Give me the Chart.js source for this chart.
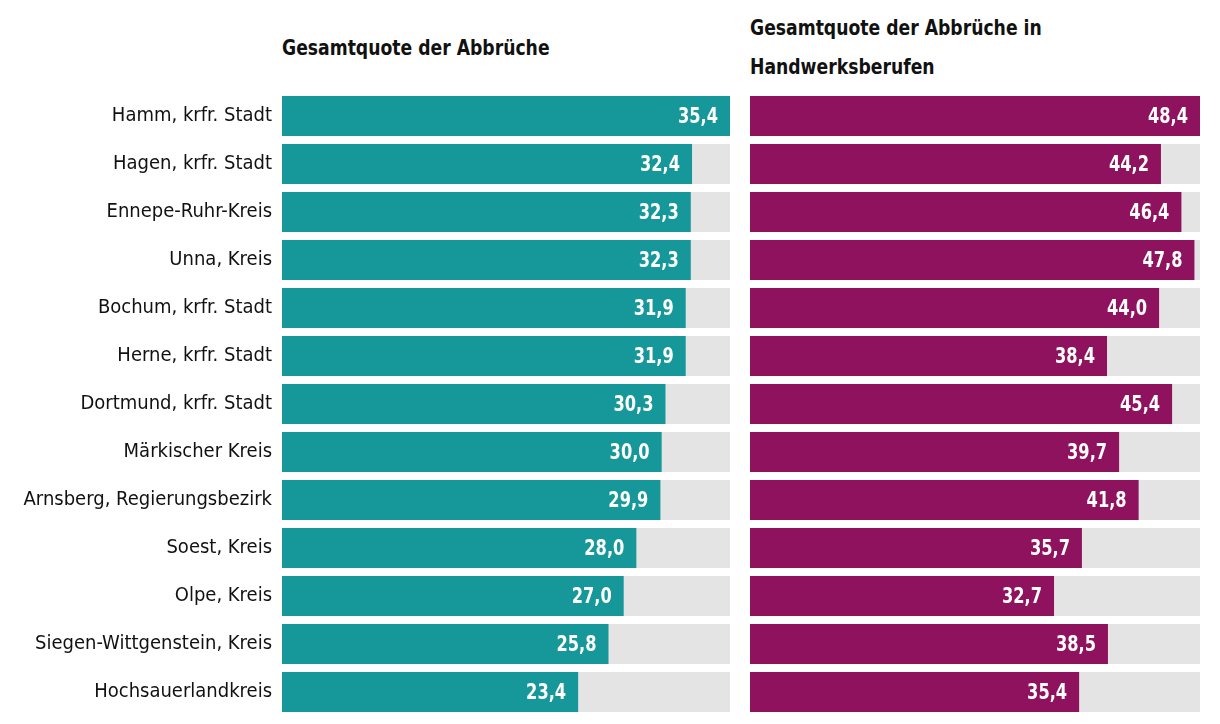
<!DOCTYPE html>
<html>
<head>
<meta charset="utf-8">
<script src="https://cdn.jsdelivr.net/npm/chart.js@4.4.0/dist/chart.umd.min.js"></script>
<style>
  body { margin: 0; background: #fff; width: 1220px; height: 724px; position: relative; overflow: hidden; }
  .title { position: absolute; font-family: "DejaVu Sans Condensed", "Liberation Sans Narrow", sans-serif; font-weight: bold; font-size: 22px; color: #111; line-height: 39px; transform: scaleX(0.87); transform-origin: left top; white-space: nowrap; }
  #box1 { position: absolute; left: 0; top: 92px; width: 730px; height: 624px; }
  #box2 { position: absolute; left: 750px; top: 92px; width: 450px; height: 624px; }
</style>
</head>
<body>
<div class="title" style="left:282px; top:28px;">Gesamtquote der Abbrüche</div>
<div class="title" style="left:750px; top:8px;">Gesamtquote der Abbrüche in<br>Handwerksberufen</div>
<div id="box1"><canvas id="c1"></canvas></div>
<div id="box2"><canvas id="c2"></canvas></div>
<script>
const FONT = '"DejaVu Sans Condensed", "Liberation Sans Narrow", sans-serif';

const regions = [
    "Hamm, krfr. Stadt",
    "Hagen, krfr. Stadt",
    "Ennepe-Ruhr-Kreis",
    "Unna, Kreis",
    "Bochum, krfr. Stadt",
    "Herne, krfr. Stadt",
    "Dortmund, krfr. Stadt",
    "Märkischer Kreis",
    "Arnsberg, Regierungsbezirk",
    "Soest, Kreis",
    "Olpe, Kreis",
    "Siegen-Wittgenstein, Kreis",
    "Hochsauerlandkreis"
];
const gesamt = [35.4, 32.4, 32.3, 32.3, 31.9, 31.9, 30.3, 30.0, 29.9, 28.0, 27.0, 25.8, 23.4];
const handwerk = [48.4, 44.2, 46.4, 47.8, 44.0, 38.4, 45.4, 39.7, 41.8, 35.7, 32.7, 38.5, 35.4];

const max1 = 35.4;
const max2 = 48.4;

const fmt = (v) => v.toFixed(1).replace(".", ",");

// white value text at the end of each coloured bar, squeezed a bit
const valueLabels = {
    id: "valueLabels",
    afterDatasetsDraw(chart) {
        const ctx = chart.ctx;
        const meta = chart.getDatasetMeta(1);
        const data = chart.data.datasets[1].data;
        const sx = 0.82;
        ctx.save();
        ctx.scale(sx, 1);
        ctx.fillStyle = "#fff";
        ctx.font = "bold 22px " + FONT;
        ctx.textAlign = "right";
        ctx.textBaseline = "middle";
        meta.data.forEach((bar, i) => {
            ctx.fillText(fmt(data[i]), (bar.x - 12) / sx, bar.y + 1);
        });
        ctx.restore();
    }
};

function makeChart(canvas, values, max, color, showLabels) {
    return new Chart(canvas, {
        type: "bar",
        data: {
            labels: regions,
            datasets: [{
                data: regions.map(() => max),
                backgroundColor: "#e4e4e4",
                grouped: false,
                order: 2
            }, {
                data: values,
                backgroundColor: color,
                grouped: false,
                order: 1
            }]
        },
        options: {
            indexAxis: "y",
            responsive: true,
            maintainAspectRatio: false,
            animation: false,
            layout: { padding: 0 },
            datasets: {
                bar: { categoryPercentage: 1, barPercentage: 40 / 48, borderWidth: 0 }
            },
            plugins: {
                legend: { display: false },
                tooltip: { enabled: false }
            },
            scales: {
                x: { display: false, min: 0, max: max },
                y: {
                    display: showLabels,
                    grid: { display: false, drawTicks: false },
                    border: { display: false },
                    ticks: {
                        color: "#111",
                        padding: 10,
                        font: { family: FONT, size: 20 }
                    },
                    afterFit: (s) => {
                        if (!showLabels) return;
                        s.width = 282;
                        s.paddingTop = 0;
                        s.paddingBottom = 0;
                    }
                }
            }
        },
        plugins: [valueLabels]
    });
}

makeChart(document.getElementById("c1"), gesamt, max1, "#16979a", true);
makeChart(document.getElementById("c2"), handwerk, max2, "#8e125e", false);
</script>
</body>
</html>
